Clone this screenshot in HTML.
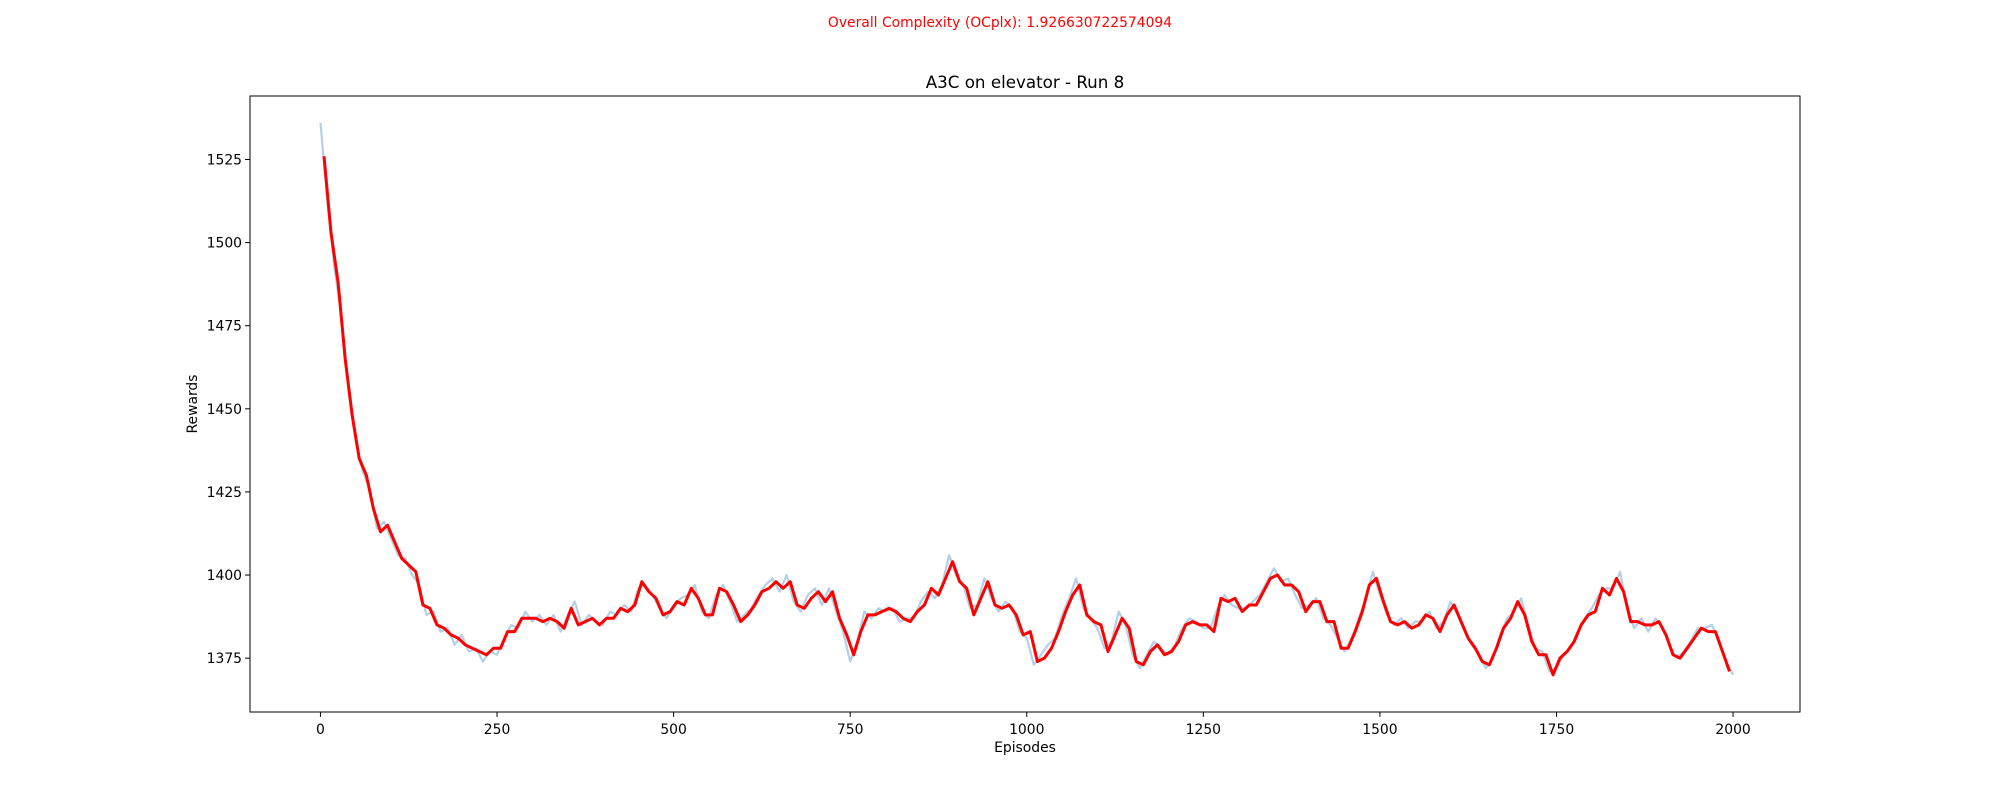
<!DOCTYPE html>
<html><head><meta charset="utf-8"><style>
html,body{margin:0;padding:0;background:#fff;}
svg text{font-family:"DejaVu Sans","Liberation Sans",sans-serif;}
</style></head><body>
<svg id="chart" width="2000" height="800" xmlns="http://www.w3.org/2000/svg">
<text x="1000" y="27" text-anchor="middle" font-size="13.9" fill="#ff0000">Overall Complexity (OCplx): 1.926630722574094</text>
<text x="1025" y="88" text-anchor="middle" font-size="16.7">A3C on elevator - Run 8</text>
<text x="1025" y="752" text-anchor="middle" font-size="13.9">Episodes</text>
<text x="197" y="404" text-anchor="middle" font-size="13.9" transform="rotate(-90 197 404)">Rewards</text>
<g id="marks"></g>
<rect x="250" y="96" width="1550" height="616" fill="none" stroke="#000" stroke-width="1"/>
<g id="ticks"></g>
</svg>
<script>
const xTicks=[0,250,500,750,1000,1250,1500,1750,2000];
const yTicks=[1375,1400,1425,1450,1475,1500,1525];
const smoothEpisodes=[];for(let i=0;i<200;i++)smoothEpisodes.push(5+10*i);
const smoothValues=[1526,1503,1488,1465,1448,1435,1430,1420,1413,1415,1410,1405,1403,1401,1391,1390,1385,1384,1382,1381,1379,1378,1377,1376,1378,1378,1383,1383,1387,1387,1387,1386,1387,1386,1384,1390,1385,1386,1387,1385,1387,1387,1390,1389,1391,1398,1395,1393,1388,1389,1392,1391,1396,1393,1388,1388,1396,1395,1391,1386,1388,1391,1395,1396,1398,1396,1398,1391,1390,1393,1395,1392,1395,1387,1382,1376,1383,1388,1388,1389,1390,1389,1387,1386,1389,1391,1396,1394,1399,1404,1398,1396,1388,1393,1398,1391,1390,1391,1388,1382,1383,1374,1375,1378,1383,1389,1394,1397,1388,1386,1385,1377,1382,1387,1384,1374,1373,1377,1379,1376,1377,1380,1385,1386,1385,1385,1383,1393,1392,1393,1389,1391,1391,1395,1399,1400,1397,1397,1395,1389,1392,1392,1386,1386,1378,1378,1383,1389,1397,1399,1392,1386,1385,1386,1384,1385,1388,1387,1383,1388,1391,1386,1381,1378,1374,1373,1378,1384,1387,1392,1388,1380,1376,1376,1370,1375,1377,1380,1385,1388,1389,1396,1394,1399,1395,1386,1386,1385,1385,1386,1382,1376,1375,1378,1381,1384,1383,1383,1377,1371];
const rawEpisodes=[];for(let i=0;i<=200;i++)rawEpisodes.push(10*i);
const rawValues=[1536,1512,1492,1478,1455,1440,1431,1426,1414,1416,1411,1406,1405,1400,1397,1388,1389,1383,1384,1379,1382,1377,1378,1374,1377,1376,1381,1385,1384,1389,1386,1388,1385,1388,1383,1388,1392,1385,1388,1386,1385,1389,1388,1391,1389,1396,1397,1394,1390,1387,1391,1393,1394,1397,1389,1387,1394,1397,1392,1386,1388,1390,1394,1397,1399,1395,1400,1392,1389,1394,1396,1391,1396,1389,1383,1374,1380,1389,1387,1390,1389,1390,1386,1387,1387,1392,1395,1393,1397,1406,1400,1397,1390,1391,1399,1393,1389,1392,1390,1383,1381,1373,1376,1379,1381,1388,1393,1399,1390,1387,1384,1378,1380,1389,1385,1376,1372,1376,1380,1378,1376,1379,1384,1387,1386,1384,1384,1390,1394,1391,1390,1390,1392,1394,1398,1402,1398,1399,1394,1390,1391,1393,1387,1385,1381,1377,1381,1387,1393,1401,1394,1388,1385,1387,1384,1386,1386,1389,1384,1386,1392,1388,1383,1379,1376,1372,1375,1382,1387,1389,1393,1385,1378,1377,1371,1372,1376,1378,1383,1387,1390,1394,1396,1396,1401,1390,1384,1387,1383,1387,1384,1379,1375,1377,1380,1384,1384,1385,1380,1374,1370];
const X0=-99.75,X1=2094.75,Y0=1358.8,Y1=1544.1;
const L=250,R=1800,T=96,B=712;
function xs(v){return L+(v-X0)/(X1-X0)*(R-L);}
function ys(v){return B-(v-Y0)/(Y1-Y0)*(B-T);}
const NS='http://www.w3.org/2000/svg';
const marks=document.getElementById('marks'),ticks=document.getElementById('ticks');
function line(eps,vals,color,w,name){
  const p=document.createElementNS(NS,'polyline');
  p.setAttribute('points',eps.map((e,i)=>xs(e).toFixed(1)+','+ys(vals[i]).toFixed(1)).join(' '));
  p.setAttribute('fill','none');p.setAttribute('stroke',color);p.setAttribute('stroke-width',w);p.setAttribute('stroke-linejoin','round');
  
  
  marks.appendChild(p);
}
line(rawEpisodes,rawValues,'#b5d0e6',2.2,'raw-rewards-line');
line(smoothEpisodes,smoothValues,'#ff0000',3,'smoothed-rewards-line');
xTicks.forEach(t=>{
  const x=xs(t);
  const l=document.createElementNS(NS,'line');
  l.setAttribute('x1',x);l.setAttribute('x2',x);l.setAttribute('y1',B);l.setAttribute('y2',B+4.9);l.setAttribute('stroke','#000');
  
  
  ticks.appendChild(l);
  const tx=document.createElementNS(NS,'text');
  tx.setAttribute('x',x);tx.setAttribute('y',B+22);tx.setAttribute('text-anchor','middle');tx.setAttribute('font-size','13.9');
  tx.textContent=t;
  
  
  ticks.appendChild(tx);
});
yTicks.forEach(t=>{
  const y=ys(t);
  const l=document.createElementNS(NS,'line');
  l.setAttribute('x1',L-4.9);l.setAttribute('x2',L);l.setAttribute('y1',y);l.setAttribute('y2',y);l.setAttribute('stroke','#000');
  
  
  ticks.appendChild(l);
  const tx=document.createElementNS(NS,'text');
  tx.setAttribute('x',L-8);tx.setAttribute('y',y+5);tx.setAttribute('text-anchor','end');tx.setAttribute('font-size','13.9');
  tx.textContent=t;
  
  
  ticks.appendChild(tx);
});
</script>
</body></html>
